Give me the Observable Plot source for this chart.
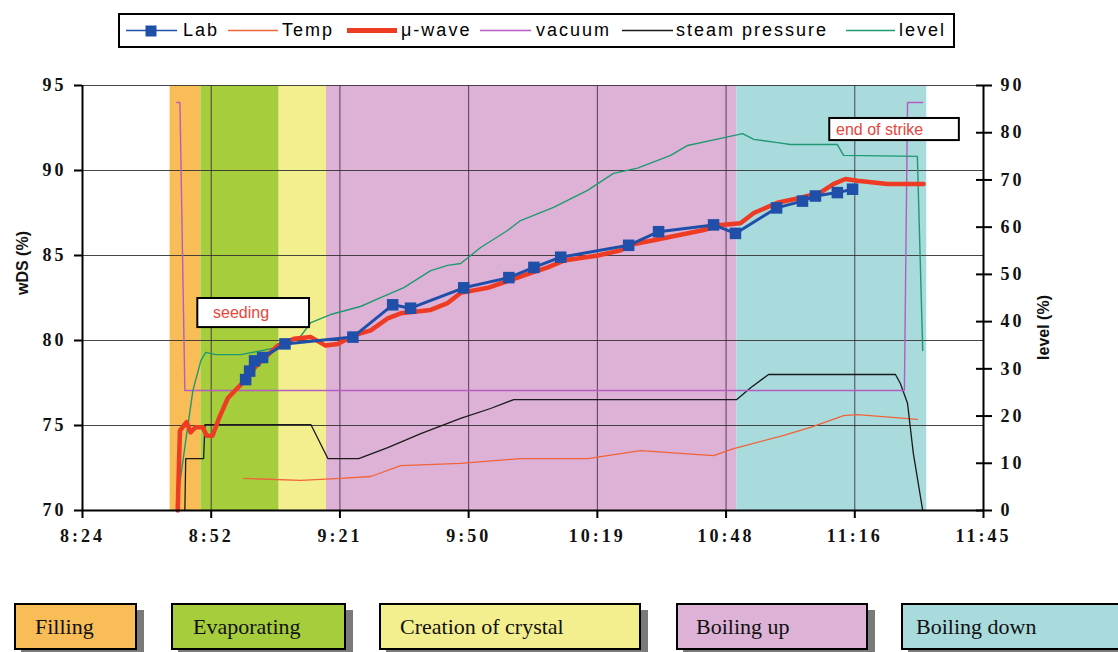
<!DOCTYPE html>
<html><head><meta charset="utf-8">
<script src="https://cdn.jsdelivr.net/npm/d3@7"></script>
<script src="https://cdn.jsdelivr.net/npm/@observablehq/plot@0.6"></script>
<style>
body{margin:0;background:#fff;width:1118px;height:652px;position:relative;overflow:hidden;font-family:"Liberation Sans",Arial,sans-serif;}
#legend{position:absolute;left:118px;top:13px;width:833px;height:31px;border:2px solid #000;background:#fff;}
.lt{position:absolute;top:0;height:31px;line-height:31px;font-size:18px;letter-spacing:2px;color:#000;white-space:nowrap;}
.ls{position:absolute;top:0;}
#chart{position:absolute;left:0;top:62px;}
.phase{position:absolute;top:603px;height:47px;border:2px solid #000;box-shadow:7px 7px 0 #7a7a7a;font-family:"Liberation Serif","Times New Roman",serif;font-size:22px;line-height:43px;box-sizing:border-box;white-space:nowrap;color:#111;}
#chart g[aria-label="y-axis tick label"], #chart g[aria-label="x-axis tick label"]{font-family:"Liberation Serif","Times New Roman",serif;font-size:18px;font-weight:bold;letter-spacing:3px;fill:#111;}
#chart g.axtitle text{font-size:16px;font-weight:bold;font-family:"Liberation Sans",Arial,sans-serif;}
</style>
</head><body>
<div id="legend"></div>
<div id="chart"></div>
<div id="phases"></div>
<script>
// ---- data ----
const phaseNames = ["Filling", "Evaporating", "Creation of crystal", "Boiling up", "Boiling down"];
const phaseStart = ["8:43.6", "8:50.5", "9:08.0", "9:18.6", "10:50.4"];
const phaseEnd   = ["8:50.5", "9:08.0", "9:18.6", "10:50.4", "11:32.9"];
const phaseColors = ["#F9BD57", "#A6CD3C", "#F4EF8E", "#DEB2D6", "#A9DADC"];

const xTicks = [504, 532.8, 561.6, 590.4, 619.2, 648, 676.8, 705.6]; // minutes after midnight
const xTickLabels = ["8:24", "8:52", "9:21", "9:50", "10:19", "10:48", "11:16", "11:45"];
const leftTicks = [70, 75, 80, 85, 90, 95];
const rightTicks = [0, 10, 20, 30, 40, 50, 60, 70, 80, 90];

const seriesNames = ["Lab", "Temp", "\u03bc-wave", "vacuum", "steam pressure", "level"];
const seriesColors = ["#1F4FA8", "#F0643A", "#EE3B24", "#B45DC0", "#1a1a1a", "#1E9970"];

const labTime = ["9:00.5","9:01.4","9:02.5","9:04.3","9:09.3","9:24.5","9:33.4","9:37.4","9:49.3","9:59.4","10:05.0","10:11.0","10:26.2","10:32.9","10:45.2","10:50.1","10:59.3","11:05.1","11:08.0","11:12.9","11:16.3"];
const labWds  = [77.7,78.2,78.8,79.0,79.8,80.2,82.1,81.9,83.1,83.7,84.3,84.9,85.6,86.4,86.8,86.3,87.8,88.2,88.5,88.7,88.9];

const mwTime = ["8:45.3","8:45.8","8:46.7","8:47.3","8:48.2","8:49.3","8:50.9","8:51.8","8:53.1","8:54.5","8:56.5","8:59.4","9:03.2","9:07.7","9:11.3","9:15.1","9:18.4","9:21.1","9:24.7","9:28.5","9:32.3","9:35.2","9:41.9","9:45.7","9:48.6","9:54.7","9:59.1","10:03.6","10:08.1","10:11.7","10:19.3","10:24.4","10:26.0","10:31.8","10:43.0","10:46.8","10:51.2","10:54.2","10:59.5","11:04.7","11:09.1","11:12.0","11:14.7","11:17.4","11:24.1","11:32.2"];
const mwWds  = [70.0,74.7,75.0,75.2,74.6,74.9,74.9,74.4,74.4,75.4,76.6,77.4,78.6,79.7,80.1,80.2,79.7,79.8,80.3,80.6,81.3,81.6,81.8,82.2,82.8,83.1,83.5,83.9,84.3,84.7,85.0,85.3,85.6,85.9,86.5,86.8,86.9,87.5,88.1,88.4,88.7,89.2,89.5,89.4,89.2,89.2];

const tempTime = ["9:00.1","9:12.8","9:21.8","9:28.5","9:35.2","9:48.6","10:02.0","10:17.0","10:28.9","10:45.2","10:49.7","11:00.9","11:06.9","11:14.3","11:17.4","11:30.8"];
const tempVal  = [6.8,6.4,6.8,7.2,9.5,10.0,11.0,11.0,12.7,11.6,13.1,15.9,17.6,20.1,20.3,19.3];

const vacTime = ["8:45.1","8:45.8","8:46.9","11:27.9","11:28.6","11:32.0"];
const vacVal  = [86.4,86.4,25.4,25.4,86.4,86.4];

const steamTime = ["8:46.9","8:47.1","8:51.1","8:51.4","9:15.1","9:18.9","9:25.8","9:32.3","9:39.7","9:48.6","9:55.3","10:00.5","10:50.4","10:53.5","10:57.5","11:25.9","11:27.0","11:28.6","11:29.9","11:32.0"];
const steamVal  = [0,11.0,11.0,18.2,18.2,11.0,11.0,13.3,16.3,19.5,21.6,23.5,23.5,26.0,28.8,28.8,26.9,22.7,12.1,0];

const levelTime = ["8:45.1","8:47.1","8:48.7","8:50.5","8:51.6","8:53.8","8:59.4","9:04.3","9:09.5","9:12.8","9:15.1","9:19.5","9:26.2","9:30.7","9:35.9","9:41.9","9:45.7","9:48.6","9:53.1","9:59.1","10:02.0","10:09.4","10:17.0","10:22.8","10:28.2","10:35.6","10:39.4","10:46.8","10:51.7","10:54.2","10:59.5","11:02.4","11:12.9","11:14.3","11:30.8","11:32.0"];
const levelVal  = [1.1,14.8,25.4,31.8,33.5,33.0,33.0,33.9,34.9,36.9,39.8,41.5,43.2,45.1,47.2,50.8,51.9,52.3,55.7,59.3,61.4,64.2,67.8,71.4,72.5,75.2,77.3,78.8,79.8,78.6,77.9,77.5,77.5,75.2,75.0,33.9];

const noteTexts = ["seeding", "end of strike"];
const noteStart = ["8:49.8", "11:11.2"];
const noteEnd   = ["9:14.8", "11:40.2"];
const noteTop   = [82.47, 93.06];
const noteBottom= [80.76, 91.76];
const noteTextAt= ["8:53.2", "11:12.6"];

// ---- helpers ----
const toMin = s => { const [h, m] = s.split(":"); return (+h) * 60 + parseFloat(m); };
const R2L = r => 70 + r * 25 / 90;   // right axis (level %) -> left axis (wDS %)
const zip = (ts, vs, f = v => v) => ts.map((t, i) => ({x: toMin(t), y: f(vs[i])}));

const lab = zip(labTime, labWds);
const mw = zip(mwTime, mwWds);
const temp = zip(tempTime, tempVal, R2L);
const vac = zip(vacTime, vacVal, R2L);
const steam = zip(steamTime, steamVal, R2L);
const level = zip(levelTime, levelVal, R2L);
const phases = phaseNames.map((n, i) => ({name: n, x1: toMin(phaseStart[i]), x2: toMin(phaseEnd[i]), color: phaseColors[i]}));
const notes = noteTexts.map((t, i) => ({t, x1: toMin(noteStart[i]), x2: toMin(noteEnd[i]), y1: noteBottom[i], y2: noteTop[i], tx: toMin(noteTextAt[i]), ty: (noteTop[i] + noteBottom[i]) / 2}));

const chart = Plot.plot({
  width: 1118, height: 500,
  marginTop: 23, marginBottom: 52, marginLeft: 82, marginRight: 135,
  x: {domain: [504, 705.6]},
  y: {domain: [70, 95]},
  style: {background: "transparent"},
  marks: [
    Plot.rect(phases, {x1: "x1", x2: "x2", y1: 70, y2: 95, fill: "color"}),
    Plot.gridY(leftTicks, {stroke: "#333", strokeOpacity: 0.9, strokeWidth: 1}),
    Plot.gridX(xTicks, {stroke: "#3a2a40", strokeOpacity: 0.85, strokeWidth: 1}),
    Plot.line(temp, {x: "x", y: "y", stroke: seriesColors[1], strokeWidth: 1.3}),
    Plot.line(steam, {x: "x", y: "y", stroke: seriesColors[4], strokeWidth: 1.3}),
    Plot.line(vac, {x: "x", y: "y", stroke: seriesColors[3], strokeWidth: 1.4}),
    Plot.line(level, {x: "x", y: "y", stroke: seriesColors[5], strokeWidth: 1.4}),
    Plot.line(mw, {x: "x", y: "y", stroke: seriesColors[2], strokeWidth: 4.5}),
    Plot.line(lab, {x: "x", y: "y", stroke: seriesColors[0], strokeWidth: 3}),
    Plot.dot(lab, {x: "x", y: "y", symbol: "square", fill: seriesColors[0], r: 6.5}),
    Plot.rect(notes, {x1: "x1", x2: "x2", y1: "y1", y2: "y2", fill: "white", stroke: "black", strokeWidth: 2}),
    Plot.text(notes, {x: "tx", y: "ty", text: "t", textAnchor: "start", fill: "#E8453C", fontSize: 16, fontFamily: "Liberation Sans, Arial, sans-serif"}),
    Plot.ruleY([70], {stroke: "#000", strokeWidth: 2}),
    Plot.ruleX([504], {stroke: "#000", strokeWidth: 2}),
    Plot.ruleX([705.6], {stroke: "#000", strokeWidth: 2}),
    Plot.axisX(xTicks, {tickFormat: d => xTickLabels[xTicks.indexOf(d)], tickSize: 8, tickPadding: 11, label: null, strokeWidth: 2}),
    Plot.axisY(leftTicks, {anchor: "left", tickSize: 8, tickPadding: 8, label: null, strokeWidth: 2}),
    Plot.axisY(rightTicks.map(R2L), {anchor: "right", tickSize: 8, tickPadding: 9, label: null, strokeWidth: 2, tickFormat: d => String(Math.round((d - 70) * 90 / 25))}),
    Plot.axisY(rightTicks.map(R2L), {anchor: "right", tickSize: -8, tickFormat: () => "", label: null, strokeWidth: 2}),
    Plot.text(["wDS (%)"], {frameAnchor: "left", dx: -60, dy: -3, rotate: -90, text: d => d, className: "axtitle", fill: "#111"}),
    Plot.text(["level (%)"], {frameAnchor: "right", dx: 60, dy: -3, rotate: -90, text: d => d, className: "axtitle", fill: "#111"})
  ]
});
document.getElementById("chart").appendChild(chart);

// ---- legend (above the chart) ----
const legendSwatch = [[6, 57], [108, 158], [227, 277], [360, 411], [502, 553], [726, 775]];
const legendTextLeft = [63, 162, 281, 416, 556, 779];
const legendWidths = [1.3, 1.3, 5, 1.4, 1.4, 1.4];
const legend = document.getElementById("legend");
seriesNames.forEach((n, i) => {
  const [a, b] = legendSwatch[i];
  const sw = document.createElementNS("http://www.w3.org/2000/svg", "svg");
  sw.setAttribute("class", "ls");
  sw.setAttribute("width", b - a + 4); sw.setAttribute("height", 31);
  sw.style.left = (a - 2) + "px";
  sw.innerHTML = `<line x1="2" x2="${b - a + 2}" y1="15.5" y2="15.5" stroke="${seriesColors[i]}" stroke-width="${legendWidths[i]}"/>` +
    (i === 0 ? `<rect x="${(b - a) / 2 - 4}" y="10.5" width="11" height="11" fill="${seriesColors[0]}"/>` : "");
  legend.appendChild(sw);
  const t = document.createElement("div");
  t.className = "lt"; t.textContent = n; t.style.left = legendTextLeft[i] + "px";
  legend.appendChild(t);
});

// ---- phase boxes (below the chart) ----
const boxLeft = [14, 171, 379, 676, 901];
const boxWidth = [123, 175, 262, 192, 240];
const boxPad = [19, 20, 19, 18, 13];
const ph = document.getElementById("phases");
phaseNames.forEach((n, i) => {
  const d = document.createElement("div");
  d.className = "phase";
  d.style.left = boxLeft[i] + "px"; d.style.width = boxWidth[i] + "px";
  d.style.paddingLeft = boxPad[i] + "px";
  d.style.background = phaseColors[i];
  d.textContent = n;
  ph.appendChild(d);
});
</script>
</body></html>
